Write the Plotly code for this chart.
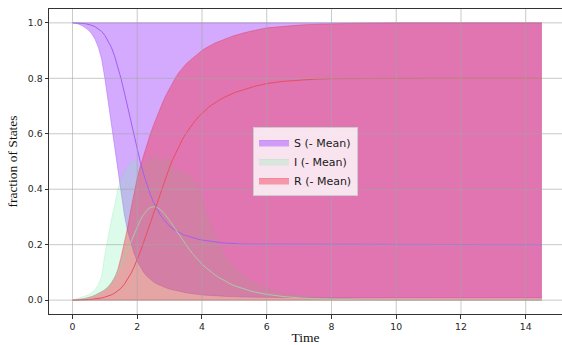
import plotly.graph_objects as go

# time grid
t = [0.0, 0.1, 0.2, 0.3, 0.4, 0.5, 0.6, 0.7, 0.8, 0.9,
     1.0, 1.1, 1.2, 1.3, 1.4, 1.5, 1.6, 1.7, 1.8, 1.9,
     2.0, 2.1, 2.2, 2.3, 2.4, 2.5, 2.6, 2.7, 2.8, 2.9,
     3.0, 3.1, 3.2, 3.3, 3.4, 3.5, 3.6, 3.7, 3.8, 3.9,
     4.0, 4.1, 4.2, 4.3, 4.4, 4.5, 4.6, 4.7, 4.8, 4.9,
     5.0, 5.1, 5.2, 5.3, 5.4, 5.5, 5.6, 5.7, 5.8, 5.9,
     6.0, 6.5, 7.0, 7.5, 8.0, 9.0, 10.0, 11.0, 12.0, 13.0, 14.0, 14.5]

S_mean = [1.000, 1.000, 0.999, 0.998, 0.997, 0.995, 0.991, 0.986, 0.979, 0.969,
          0.955, 0.936, 0.912, 0.881, 0.843, 0.799, 0.750, 0.698, 0.645, 0.592,
          0.542, 0.496, 0.454, 0.416, 0.383, 0.354, 0.330, 0.310, 0.293, 0.279,
          0.267, 0.258, 0.250, 0.243, 0.237, 0.233, 0.229, 0.225, 0.222, 0.219,
          0.217, 0.215, 0.213, 0.211, 0.210, 0.208, 0.207, 0.206, 0.205, 0.204,
          0.204, 0.203, 0.203, 0.202, 0.202, 0.202, 0.201, 0.201, 0.201, 0.201,
          0.201, 0.200, 0.200, 0.200, 0.200, 0.200, 0.200, 0.200, 0.200, 0.200, 0.200, 0.200]

I_mean = [0.000, 0.001, 0.002, 0.003, 0.005, 0.007, 0.010, 0.014, 0.020, 0.027,
          0.036, 0.048, 0.062, 0.080, 0.101, 0.126, 0.153, 0.182, 0.211, 0.240,
          0.267, 0.290, 0.309, 0.324, 0.334, 0.337, 0.335, 0.328, 0.317, 0.303,
          0.287, 0.270, 0.252, 0.234, 0.217, 0.200, 0.184, 0.169, 0.155, 0.142,
          0.130, 0.119, 0.109, 0.099, 0.091, 0.083, 0.076, 0.069, 0.063, 0.057,
          0.052, 0.048, 0.043, 0.040, 0.036, 0.033, 0.030, 0.027, 0.025, 0.023,
          0.021, 0.013, 0.008, 0.005, 0.003, 0.001, 0.000, 0.000, 0.000, 0.000, 0.000, 0.000]

R_mean = [0.000, 0.000, 0.000, 0.001, 0.001, 0.002, 0.003, 0.004, 0.006, 0.008,
          0.011, 0.014, 0.019, 0.025, 0.033, 0.043, 0.057, 0.074, 0.095, 0.119,
          0.146, 0.176, 0.209, 0.243, 0.279, 0.315, 0.350, 0.384, 0.416, 0.448,
          0.480, 0.508, 0.534, 0.558, 0.580, 0.600, 0.618, 0.634, 0.649, 0.662,
          0.674, 0.685, 0.695, 0.704, 0.712, 0.719, 0.726, 0.732, 0.738, 0.743,
          0.748, 0.752, 0.756, 0.760, 0.764, 0.767, 0.770, 0.773, 0.776, 0.779,
          0.781, 0.789, 0.794, 0.797, 0.799, 0.800, 0.800, 0.800, 0.800, 0.800, 0.800, 0.800]

S_min = [1.000, 0.999, 0.995, 0.990, 0.982, 0.973, 0.960, 0.940, 0.912, 0.870,
         0.800, 0.720, 0.630, 0.550, 0.470, 0.390, 0.310, 0.250, 0.205, 0.170,
         0.140, 0.118, 0.100, 0.086, 0.075, 0.066, 0.059, 0.053, 0.048, 0.044,
         0.040, 0.037, 0.034, 0.031, 0.029, 0.027, 0.025, 0.023, 0.021, 0.020,
         0.019, 0.018, 0.017, 0.016, 0.015, 0.015, 0.014, 0.014, 0.013, 0.013,
         0.012, 0.012, 0.012, 0.011, 0.011, 0.011, 0.011, 0.010, 0.010, 0.010,
         0.010, 0.009, 0.009, 0.008, 0.008, 0.008, 0.008, 0.008, 0.008, 0.008, 0.008, 0.008]

S_max = [1.0, 1.0, 1.0, 1.0, 1.0, 1.0, 1.0, 1.0, 1.0, 1.0,
         1.0, 1.0, 1.0, 1.0, 1.0, 1.0, 1.0, 1.0, 1.0, 1.0,
         1.0, 1.0, 1.0, 1.0, 1.0, 1.0, 1.0, 1.0, 1.0, 1.0,
         1.0, 1.0, 1.0, 1.0, 1.0, 1.0, 1.0, 1.0, 1.0, 1.0,
         1.0, 1.0, 1.0, 1.0, 1.0, 1.0, 1.0, 1.0, 1.0, 1.0,
         1.0, 1.0, 1.0, 1.0, 1.0, 1.0, 1.0, 1.0, 1.0, 1.0,
         1.0, 1.0, 1.0, 1.0, 1.0, 1.0, 1.0, 1.0, 1.0, 1.0, 1.0, 1.0]

I_min = [0.0, 0.0, 0.0, 0.0, 0.0, 0.0, 0.0, 0.0, 0.0, 0.0,
         0.0, 0.0, 0.0, 0.0, 0.0, 0.0, 0.0, 0.0, 0.0, 0.0,
         0.0, 0.0, 0.0, 0.0, 0.0, 0.0, 0.0, 0.0, 0.0, 0.0,
         0.0, 0.0, 0.0, 0.0, 0.0, 0.0, 0.0, 0.0, 0.0, 0.0,
         0.0, 0.0, 0.0, 0.0, 0.0, 0.0, 0.0, 0.0, 0.0, 0.0,
         0.0, 0.0, 0.0, 0.0, 0.0, 0.0, 0.0, 0.0, 0.0, 0.0,
         0.0, 0.0, 0.0, 0.0, 0.0, 0.0, 0.0, 0.0, 0.0, 0.0, 0.0, 0.0]

I_max = [0.000, 0.004, 0.007, 0.010, 0.014, 0.019, 0.027, 0.038, 0.055, 0.085,
         0.165, 0.235, 0.290, 0.340, 0.400, 0.440, 0.465, 0.478, 0.497, 0.505,
         0.490, 0.472, 0.498, 0.488, 0.515, 0.505, 0.520, 0.495, 0.502, 0.518,
         0.500, 0.478, 0.462, 0.472, 0.448, 0.460, 0.452, 0.440, 0.425, 0.400,
         0.360, 0.320, 0.290, 0.262, 0.232, 0.205, 0.182, 0.162, 0.145, 0.130,
         0.117, 0.105, 0.094, 0.085, 0.077, 0.070, 0.063, 0.057, 0.051, 0.046,
         0.041, 0.025, 0.015, 0.010, 0.007, 0.003, 0.001, 0.000, 0.000, 0.000, 0.000, 0.000]

R_min = [0.0, 0.0, 0.0, 0.0, 0.0, 0.0, 0.0, 0.0, 0.0, 0.0,
         0.0, 0.0, 0.0, 0.0, 0.0, 0.0, 0.0, 0.0, 0.0, 0.0,
         0.0, 0.0, 0.0, 0.0, 0.0, 0.0, 0.0, 0.0, 0.0, 0.0,
         0.0, 0.0, 0.0, 0.0, 0.0, 0.0, 0.0, 0.0, 0.0, 0.0,
         0.0, 0.0, 0.0, 0.0, 0.0, 0.0, 0.0, 0.0, 0.0, 0.0,
         0.0, 0.0, 0.0, 0.0, 0.0, 0.0, 0.0, 0.0, 0.0, 0.0,
         0.0, 0.0, 0.0, 0.0, 0.0, 0.0, 0.0, 0.0, 0.0, 0.0, 0.0, 0.0]

R_max = [0.000, 0.000, 0.001, 0.003, 0.006, 0.009, 0.013, 0.018, 0.024, 0.030,
         0.037, 0.047, 0.060, 0.080, 0.110, 0.155, 0.205, 0.260, 0.325, 0.385,
         0.440, 0.485, 0.525, 0.563, 0.598, 0.630, 0.660, 0.690, 0.717, 0.742,
         0.765, 0.787, 0.806, 0.823, 0.838, 0.851, 0.862, 0.872, 0.882, 0.891,
         0.900, 0.908, 0.915, 0.921, 0.927, 0.932, 0.937, 0.942, 0.946, 0.950,
         0.954, 0.958, 0.961, 0.964, 0.967, 0.970, 0.973, 0.976, 0.978, 0.980,
         0.982, 0.988, 0.992, 0.995, 0.997, 0.999, 1.000, 1.000, 1.000, 1.000, 1.000, 1.000]

x_ticks = [0, 2, 4, 6, 8, 10, 12, 14]
y_ticks = [0.0, 0.2, 0.4, 0.6, 0.8, 1.0]
labels = ["S (- Mean)", "I (- Mean)", "R (- Mean)"]

fill_colors = ["rgba(170,85,255,0.5)", "rgba(120,240,170,0.25)", "rgba(240,45,70,0.42)"]
edge_colors = ["rgba(150,70,240,0.55)", "rgba(100,220,150,0.3)", "rgba(225,40,70,0.5)"]
line_colors = ["#a25ef0", "#a9c9a9", "#ea4e5e"]

bands = [(S_min, S_max), (I_min, I_max), (R_min, R_max)]
means = [S_mean, I_mean, R_mean]

fig = go.Figure()
for (lo, hi), lab, fc, ec in zip(bands, labels, fill_colors, edge_colors):
    fig.add_trace(go.Scatter(x=t, y=lo, mode="lines", line=dict(width=0.7, color=ec),
                             showlegend=False, hoverinfo="skip"))
    fig.add_trace(go.Scatter(x=t, y=hi, mode="lines", line=dict(width=0.7, color=ec),
                             fill="tonexty", fillcolor=fc, name=lab))
for m, lc in zip(means, line_colors):
    fig.add_trace(go.Scatter(x=t, y=m, mode="lines", line=dict(width=1, color=lc),
                             showlegend=False))

grid_col = "rgba(165,165,165,0.6)"
shapes = []
for xv in x_ticks:
    shapes.append(dict(type="line", xref="x", yref="paper", x0=xv, x1=xv, y0=0, y1=1,
                       line=dict(color=grid_col, width=1), layer="above"))
for yv in y_ticks:
    shapes.append(dict(type="line", xref="paper", yref="y", x0=0, x1=1, y0=yv, y1=yv,
                       line=dict(color=grid_col, width=1), layer="above"))

tick_font = dict(family="DejaVu Sans", size=9.3, color="#262626")
title_font = dict(family="Liberation Serif", size=13.5, color="#111111")

fig.update_layout(
    width=562, height=345,
    margin=dict(l=49, r=0, t=9, b=29),
    paper_bgcolor="white", plot_bgcolor="white",
    shapes=shapes,
    showlegend=True,
    legend=dict(x=0.5, y=0.5, xanchor="center", yanchor="middle",
                bgcolor="rgba(255,255,255,0.8)", bordercolor="#cccccc", borderwidth=1,
                font=dict(family="DejaVu Sans", size=11, color="#1a1a1a"),
                traceorder="normal"),
    xaxis=dict(range=[-0.725, 15.12], tickvals=x_ticks, showgrid=False, zeroline=False,
               showline=True, linecolor="#333333", linewidth=1, mirror=True,
               ticks="outside", ticklen=3.5, tickcolor="#333333", tickwidth=1,
               tickfont=tick_font,
               title=dict(text="Time", font=title_font, standoff=4)),
    yaxis=dict(range=[-0.05, 1.05], tickvals=y_ticks, tickformat=".1f", showgrid=False,
               zeroline=False, showline=True, linecolor="#333333", linewidth=1,
               ticks="outside", ticklen=3.5, tickcolor="#333333", tickwidth=1,
               tickfont=tick_font,
               title=dict(text="fraction of States", font=title_font, standoff=7)),
)

fig.write_html("out.html")
